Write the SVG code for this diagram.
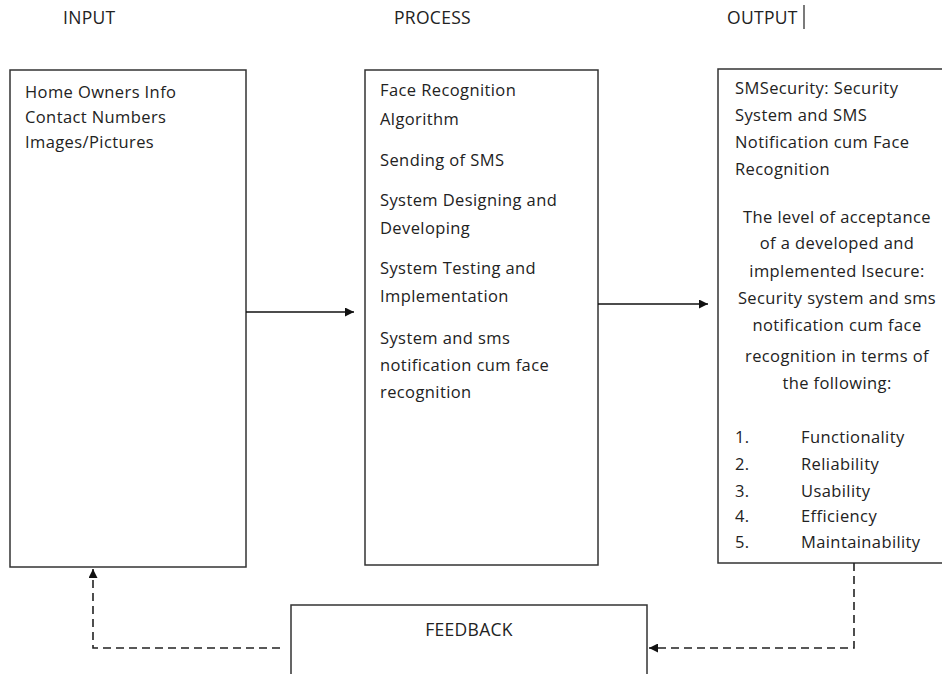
<svg xmlns="http://www.w3.org/2000/svg" width="942" height="674" viewBox="0 0 942 674">
<style>
text{font-family:"Open Sans","Liberation Sans",sans-serif;font-size:16.5px;letter-spacing:0.4px;fill:#222}
.title{font-size:17.5px;letter-spacing:0.3px}
.box{fill:#fff;stroke:#333;stroke-width:1.5}
.line{fill:none;stroke:#111;stroke-width:1.5}
.dash{fill:none;stroke:#222;stroke-width:1.6;stroke-dasharray:8 5}
.c{text-anchor:middle}
</style>
<defs>
<marker id="ah" viewBox="0 0 10 10" refX="10" refY="5" markerWidth="11" markerHeight="9" markerUnits="userSpaceOnUse" orient="auto">
<path d="M0,0 L10,5 L0,10 Z" fill="#111"/>
</marker>
</defs>
<rect width="942" height="674" fill="#fff"/>
<g id="titles">
<text class="title" x="63" y="24">INPUT</text>
<text class="title" x="394" y="24">PROCESS</text>
<text class="title" x="727" y="24">OUTPUT</text>
<line x1="804" y1="5" x2="804" y2="29" stroke="#222" stroke-width="1.2"/>
</g>
<g id="input">
<rect class="box" x="10" y="70" width="236" height="497"/>
<text x="25" y="98">Home Owners Info</text>
<text x="25" y="123">Contact Numbers</text>
<text x="25" y="148">Images/Pictures</text>
</g>
<g id="process">
<rect class="box" x="365" y="70" width="233" height="495"/>
<text x="380" y="96">Face Recognition</text>
<text x="380" y="125">Algorithm</text>
<text x="380" y="166">Sending of SMS</text>
<text x="380" y="206">System Designing and</text>
<text x="380" y="234">Developing</text>
<text x="380" y="274">System Testing and</text>
<text x="380" y="302">Implementation</text>
<text x="380" y="344">System and sms</text>
<text x="380" y="371">notification cum face</text>
<text x="380" y="398">recognition</text>
</g>
<g id="output">
<rect class="box" x="718" y="69" width="240" height="494"/>
<text x="735" y="94">SMSecurity: Security</text>
<text x="735" y="121">System and SMS</text>
<text x="735" y="148">Notification cum Face</text>
<text x="735" y="175">Recognition</text>
<text class="c" x="837" y="223">The level of acceptance</text>
<text class="c" x="837" y="249">of a developed and</text>
<text class="c" x="837" y="277">implemented Isecure:</text>
<text class="c" x="837" y="304">Security system and sms</text>
<text class="c" x="837" y="331">notification cum face</text>
<text class="c" x="837" y="362">recognition in terms of</text>
<text class="c" x="837" y="389">the following:</text>
<text x="735" y="443">1.</text><text x="801" y="443">Functionality</text>
<text x="735" y="470">2.</text><text x="801" y="470">Reliability</text>
<text x="735" y="497">3.</text><text x="801" y="497">Usability</text>
<text x="735" y="522">4.</text><text x="801" y="522">Efficiency</text>
<text x="735" y="548">5.</text><text x="801" y="548">Maintainability</text>
</g>
<g id="feedback">
<rect class="box" x="291" y="605" width="356" height="80"/>
<text class="c title" x="469" y="636">FEEDBACK</text>
</g>
<g id="connectors">
<line class="line" x1="246" y1="312" x2="354" y2="312" marker-end="url(#ah)"/>
<line class="line" x1="598" y1="304" x2="708" y2="304" marker-end="url(#ah)"/>
<polyline class="dash" points="854,563 854,648 649,648" marker-end="url(#ah)"/>
<polyline class="dash" points="280,648 93,648 93,569" marker-end="url(#ah)"/>
</g>
</svg>
